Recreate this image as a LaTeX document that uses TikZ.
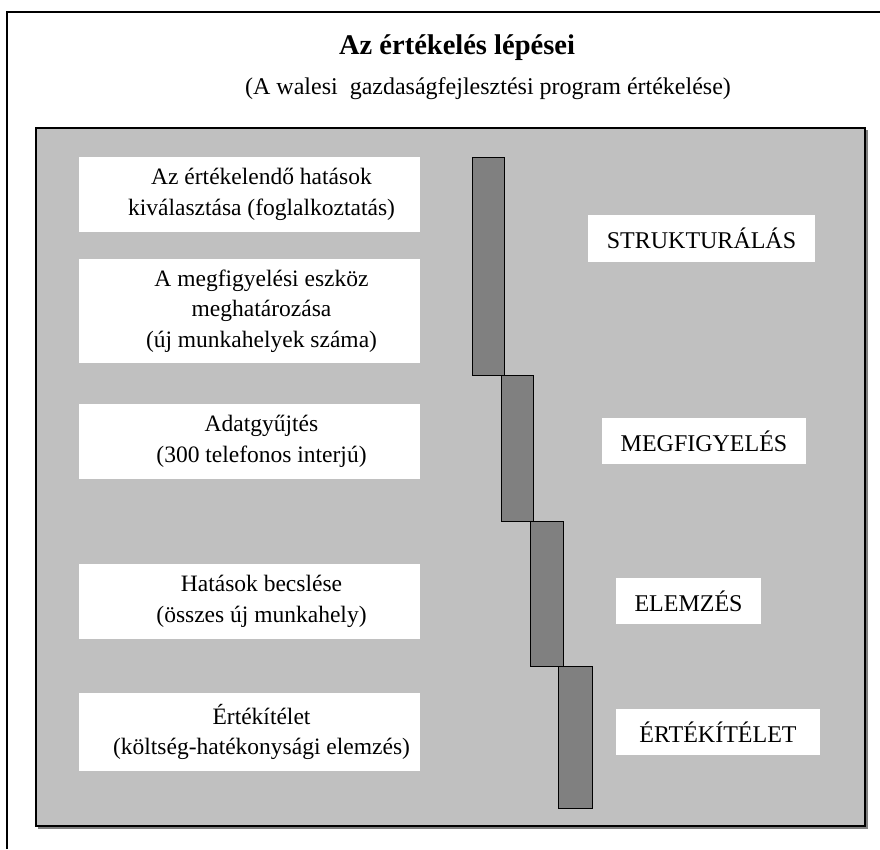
\documentclass[tikz,border=0pt]{standalone}
\usepackage{fontspec}
\setmainfont{Liberation Serif}
\usepackage{tikz}
\usetikzlibrary{positioning}
\definecolor{panelgray}{RGB}{192,192,192}
\definecolor{bargray}{RGB}{128,128,128}
\tikzset{
  stepbox/.style={fill=white, inner sep=0pt, minimum width=341pt},
  steptext/.style={align=center, inner sep=0pt, font=\fontsize{23.5}{30.5}\selectfont},
  phasebox/.style={fill=white, inner sep=0pt, minimum height=47pt, font=\fontsize{24}{30}\selectfont},
  phasebar/.style={fill=bargray, draw=black, line width=1pt}
}

\begin{document}
\begin{tikzpicture}[x=1pt,y=-1pt]
    \useasboundingbox (0,0) rectangle (880,849);
    % Draw outer frame
    \draw[line width=1.3pt] (7,849) -- (7,12) -- (880,12);

    % Title
    \node[font=\fontsize{28.5}{30}\selectfont\bfseries] (title) at (457,48) {Az értékelés lépései};
    \node[font=\fontsize{24}{30}\selectfont] (subtitle) at (488,89) {(A walesi\ \ gazdaságfejlesztési program értékelése)};

    % Draw gray panel with a thin shadow
    \draw[gray, line width=1.2pt] (38,828) -- (867,828) -- (867,130);
    \draw[fill=panelgray, line width=1.5pt] (36,128) rectangle (865,826);

    % Steps on the left
    \node[stepbox, minimum height=75pt] (select) at (249.5,194.5) {};
    \node[steptext] (selecttext) at ([xshift=12pt]select.center) {Az értékelendő hatások\\kiválasztása (foglalkoztatás)};

    \node[stepbox, minimum height=104pt] (tool) at (249.5,311) {};
    \node[steptext] (tooltext) at ([xshift=12pt]tool.center) {A megfigyelési eszköz\\meghatározása\\(új munkahelyek száma)};

    \node[stepbox, minimum height=75pt] (data) at (249.5,441.5) {};
    \node[steptext] (datatext) at ([xshift=12pt]data.center) {Adatgyűjtés\\(300 telefonos interjú)};

    \node[stepbox, minimum height=75pt] (impact) at (249.5,601.5) {};
    \node[steptext] (impacttext) at ([xshift=12pt]impact.center) {Hatások becslése\\(összes új munkahely)};

    \node[stepbox, minimum height=78pt] (judge) at (249.5,732) {};
    \node[steptext] (judgetext) at ([xshift=12pt]judge.center) {Értékítélet\\(költség-hatékonysági elemzés)};

    % Draw staircase bars
    \draw[phasebar] (472,157) rectangle (504,375);
    \draw[phasebar] (501,375) rectangle (533,521);
    \draw[phasebar] (530,521) rectangle (563,666);
    \draw[phasebar] (558,666) rectangle (592,808);

    % Phase labels on the right
    \node[phasebox, minimum width=227pt] (struct) at (701.5,238.5) {STRUKTURÁLÁS};
    \node[phasebox, minimum width=204pt, minimum height=46pt] (observe) at (704,441) {MEGFIGYELÉS};
    \node[phasebox, minimum width=145pt, minimum height=46pt] (analyse) at (688.5,601) {ELEMZÉS};
    \node[phasebox, minimum width=204pt, minimum height=46pt] (verdict) at (718,732) {ÉRTÉKÍTÉLET};
\end{tikzpicture}
\end{document}
